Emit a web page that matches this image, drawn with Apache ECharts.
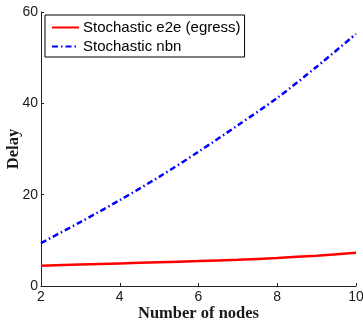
<!DOCTYPE html>
<html>
<head>
<meta charset="utf-8">
<script src="https://cdn.jsdelivr.net/npm/echarts@6/dist/echarts.min.js"></script>
<style>
  html, body { margin: 0; padding: 0; background: #fff; }
  #chart { width: 363px; height: 323px; }
</style>
</head>
<body>
<div id="chart"></div>
<script>
  // number of nodes
  var nodes = [2, 3, 4, 5, 6, 7, 8, 9, 10];
  // delay
  var e2eDelay = [4.45, 4.7, 4.95, 5.2, 5.45, 5.75, 6.15, 6.65, 7.3];
  var nbnDelay = [9.4, 14.0, 18.8, 23.9, 29.4, 35.2, 41.2, 48.0, 55.2];

  function pairs(xs, ys) {
    return xs.map(function (x, i) { return [x, ys[i]]; });
  }

  var chart = echarts.init(document.getElementById("chart"), null, { renderer: "canvas" });

  var tickFont = { fontFamily: "Liberation Sans, Arial, sans-serif", fontSize: 14, color: "#1a1a1a" };
  var nameFont = { fontFamily: "Liberation Serif, Times New Roman, serif", fontSize: 16.5, fontWeight: "bold", color: "#1a1a1a" };

  chart.setOption({
    animation: false,
    backgroundColor: "#fff",
    grid: { left: 41, right: 7, top: 12, bottom: 37, containLabel: false, outerBoundsMode: "none" },
    legend: {
      orient: "vertical",
      left: 45,
      top: 15,
      padding: [5, 4, 3, 6],
      icon: "inherit",
      itemWidth: 27,
      itemHeight: 14,
      itemGap: 4,
      itemStyle: { opacity: 0 },
      backgroundColor: "#fff",
      borderColor: "#000",
      borderWidth: 1,
      textStyle: { fontFamily: "Liberation Sans, Arial, sans-serif", fontSize: 15, color: "#000", padding: [0, 0, 0, -1] },
      data: ["Stochastic e2e (egress)", "Stochastic nbn"]
    },
    xAxis: {
      type: "value",
      min: 2,
      max: 10,
      interval: 2,
      name: "Number of nodes",
      nameLocation: "middle",
      nameGap: 19,
      nameMoveOverlap: false,
      nameTextStyle: nameFont,
      axisLine: { lineStyle: { color: "#222", width: 1 } },
      axisTick: { inside: true, length: 3, lineStyle: { color: "#222" } },
      axisLabel: Object.assign({ margin: 4 }, tickFont),
      splitLine: { show: false }
    },
    yAxis: {
      type: "value",
      min: 0,
      max: 60,
      interval: 20,
      name: "Delay",
      nameLocation: "middle",
      nameGap: 19,
      nameMoveOverlap: false,
      nameTextStyle: nameFont,
      axisLine: { show: true, lineStyle: { color: "#222", width: 1 } },
      axisTick: { show: true, inside: true, length: 3, lineStyle: { color: "#222" } },
      axisLabel: Object.assign({ margin: 3 }, tickFont),
      splitLine: { show: false }
    },
    series: [
      {
        name: "Stochastic e2e (egress)",
        type: "line",
        data: pairs(nodes, e2eDelay),
        smooth: 0.3,
        symbol: "none",
        color: "#ff0000",
        lineStyle: { color: "#ff0000", width: 2.5 }
      },
      {
        name: "Stochastic nbn",
        type: "line",
        data: pairs(nodes, nbnDelay),
        smooth: 0.3,
        symbol: "none",
        color: "#0000ff",
        lineStyle: { color: "#0000ff", width: 2.5, type: [6, 3, 1.5, 3] }
      }
    ]
  });
</script>
</body>
</html>
